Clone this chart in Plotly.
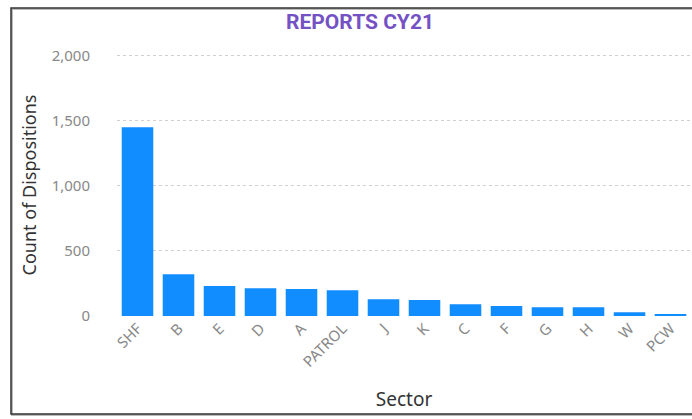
import plotly.graph_objects as go

sectors = ["SHF", "B", "E", "D", "A", "PATROL", "J", "K", "C", "F", "G", "H", "W", "PCW"]
counts = [1452, 321, 231, 213, 208, 198, 128, 123, 90, 77, 67, 68, 28, 13]
y_ticks = [0, 500, 1000, 1500, 2000]
y_tick_labels = ["0", "500", "1,000", "1,500", "2,000"]

W, H = 692, 419
L, R, T, B = 117, 1, 54, 103
pw, ph = W - L - R, H - T - B

def px(x):
    return (x - L) / pw

def py(y):
    return (H - B - y) / ph

fig = go.Figure()
fig.add_trace(go.Bar(x=sectors, y=counts, marker=dict(color="#118DFF", line=dict(width=0)),
                     hoverinfo="x+y"))

fig.update_layout(
    width=W, height=H,
    margin=dict(l=L, r=R, t=T, b=B),
    paper_bgcolor="white", plot_bgcolor="white",
    bargap=0.23,
    showlegend=False,
    font=dict(family="Noto Sans, DejaVu Sans, sans-serif"),
    title=dict(text="<b>REPORTS CY21</b>", x=px(360), xref="paper", xanchor="center",
               y=1 - 22 / H, yanchor="middle",
               font=dict(family="Roboto, Noto Sans, sans-serif", size=21, color="#7552C4")),
    xaxis=dict(
        tickangle=-45, tickfont=dict(size=15, color="#888888"),
        showgrid=False, showline=False, ticks="", zeroline=False,
        title=dict(text="Sector", font=dict(size=19, color="#333333"), standoff=22),
    ),
    yaxis=dict(
        range=[0, 2015], tickvals=y_ticks, ticktext=y_tick_labels,
        tickfont=dict(size=15, color="#888888"),
        showgrid=True, gridcolor="#D0D0D0", griddash="dot", gridwidth=1,
        zeroline=False, showline=False, ticks="", ticklabelstandoff=26,
        title=dict(text="Count of Dispositions", font=dict(size=18, color="#333333"), standoff=10),
    ),
    shapes=[
        dict(type="rect", xref="paper", yref="paper",
             x0=px(12), x1=px(700), y0=py(415), y1=py(9),
             line=dict(color="#BBBBBB", width=2), layer="below"),
        dict(type="rect", xref="paper", yref="paper",
             x0=px(11), x1=px(700), y0=py(414), y1=py(8),
             line=dict(color="#333333", width=1.5), layer="below"),
    ],
)

fig.write_html("out.html")
